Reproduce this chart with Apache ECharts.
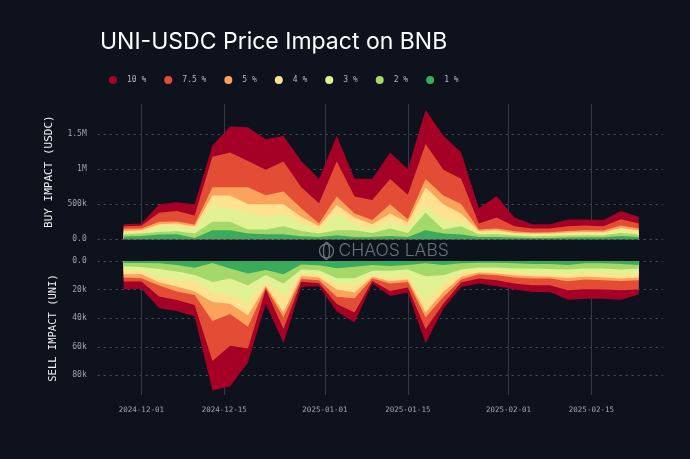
<!DOCTYPE html>
<html><head><meta charset="utf-8">
<script src="https://cdn.jsdelivr.net/npm/echarts@6/dist/echarts.min.js"></script>
<style>html,body{margin:0;padding:0;background:#0e121d;}#c{width:690px;height:459px;}</style>
</head><body><div id="c"></div>
<script>
// ---- data (values in thousands) ----
const dates = ['2024-11-28','2024-12-01','2024-12-04','2024-12-07','2024-12-10','2024-12-13','2024-12-16','2024-12-19','2024-12-22','2024-12-25',
  '2024-12-28','2024-12-31','2025-01-03','2025-01-06','2025-01-09','2025-01-12','2025-01-15','2025-01-18','2025-01-21','2025-01-24',
  '2025-01-27','2025-01-30','2025-02-02','2025-02-05','2025-02-08','2025-02-11','2025-02-14','2025-02-17','2025-02-20','2025-02-23'];
const levels = ['10 %','7.5 %','5 %','4 %','3 %','2 %','1 %'];
const colors = ['#a50026','#e34d35','#fba35c','#fee290','#e1f193','#a4d869','#3aaa5c'];

const buy10 = [215,226,500,529,500,1340,1610,1600,1430,1480,1120,865,1480,865,865,1240,1000,1850,1480,1240,442,620,312,216,216,284,284,274,404,322];
const buy75 = [185,192,380,404,341,1180,1240,1120,995,1110,745,515,1110,610,563,860,635,1360,995,865,226,312,187,154,154,187,197,187,288,226];
const buy5  = [150,154,250,255,211,745,745,745,630,683,442,226,610,370,274,500,288,860,625,505,139,154,115,96,101,120,130,125,197,154];
const buy4  = [120,130,216,226,187,625,625,505,500,500,322,187,490,312,216,370,240,740,500,370,120,130,91,82,82,96,106,101,163,125];
const buy3  = [95,105,178,178,139,500,442,380,322,370,226,139,370,216,154,250,168,490,274,250,96,101,72,62,67,77,82,82,130,96];
const buy2  = [70,82,106,115,82,250,250,139,139,187,120,82,130,130,91,154,91,380,139,187,67,72,53,43,48,53,58,58,91,67];
const buy1  = [40,48,67,72,20,130,130,82,72,72,43,34,58,34,34,48,34,130,82,67,34,34,24,19,19,24,29,29,48,34];

const sell10 = [19.6,19.4,33,35,38.8,90.6,87.5,71,29.9,57.6,18,17.6,35.3,43,15.8,24.5,22.1,57.6,33.4,18.1,15.8,17.6,20,21.6,21.6,27.1,26.4,26.4,27.1,23.5];
const sell75 = [14.4,14.4,24.9,27.2,30.7,69.9,59.3,61.2,20,47.5,14.5,15.5,30,36,13.9,21,18.6,47.5,29.9,15.1,12.2,13.4,15.8,16.9,16.9,20.5,19.8,20,20.5,20];
const sell5  = [11.6,12,17.2,21.4,23.7,42,37,46,18.6,39.3,12.5,13.5,25,26,12.2,15.8,14.6,39.3,25.2,12.9,9.2,9.9,11.5,12.2,12.2,14.1,12.9,13.4,13.9,13.4];
const sell4  = [9.3,9.3,14.9,17.9,21.4,28.7,29.9,38,17.4,35.8,10.5,11.5,20,22,11,14.1,12.9,35.8,21.6,11,8,8.7,9.9,10.6,11,11.8,11,11.5,12.2,11.5];
const sell3  = [7,7.4,11.6,13.3,14.9,21.6,24,29.9,14.4,25.2,8.5,9.2,16,17,9.2,12.2,10.6,29.9,15.8,8.2,6.8,7.1,8,8.7,8.7,9.2,8.7,8.7,9.2,8.7];
const sell2  = [3.7,4.2,5.6,7.4,9.8,14.6,12.2,17,9.8,15.8,6,6.5,12,12,6.8,6.8,5.9,10.6,9.9,5.9,4.5,4.5,5.2,5.2,5.6,5.9,5.2,5.2,5.9,5.2];
const sell1  = [1.4,1.4,1.6,2.8,4.7,1.4,5.2,8.7,6.3,9.2,2.5,3,5,4,2.8,3.5,2.8,1.6,2.8,1.6,1.2,1.2,1.6,2.1,2.1,2.8,1.6,1.6,2.1,2.8];

const xTicks = ['2024-12-01','2024-12-15','2025-01-01','2025-01-15','2025-02-01','2025-02-15'];

// ---- helpers ----
function parseLocal(s){ const p = s.split(' '); const d = p[0].split('-').map(Number); let h=0; if(p[1]) h=Number(p[1].split(':')[0]); return new Date(d[0], d[1]-1, d[2], h).getTime(); }
function fmtDate(v){ const d=new Date(v); const m=d.getMonth()+1, dd=d.getDate(); return d.getFullYear()+'-'+(m<10?'0':'')+m+'-'+(dd<10?'0':'')+dd; }
function fmtNum(v){ if(v===0) return '0.0'; if(v>=1e6) return (v/1e6)+'M'; return (v/1e3)+'k'; }

const buySets = [buy10,buy75,buy5,buy4,buy3,buy2,buy1];
const sellSets = [sell10,sell75,sell5,sell4,sell3,sell2,sell1];
const tickVals = xTicks.map(parseLocal);
const xs = dates.map(parseLocal);
const xMin = parseLocal('2024-11-23 15:00');
const xMax = parseLocal('2025-02-27 01:00');

const mono = 'DejaVu Sans Mono';
const labelColor = '#a0a5af';

function xAxisDef(idx, showLabels){
  return {
    type:'value', gridIndex: idx, min: xMin, max: xMax, scale:true,
    axisLine:{show:false},
    axisTick:{show:false, customValues: tickVals},
    axisLabel:{show: showLabels, customValues: tickVals, formatter: fmtDate, color: labelColor, fontFamily: mono, fontSize: 7.5, margin: 11, hideOverlap:false},
    splitLine:{show:true, lineStyle:{color:'#343946', width:1}}
  };
}

const series = [];
levels.forEach((name, k) => {
  series.push({
    name, type:'line', xAxisIndex:0, yAxisIndex:0, symbol:'none', silent:true,
    lineStyle:{width:0}, itemStyle:{color: colors[k]},
    areaStyle:{color: colors[k], opacity:1},
    data: xs.map((x,i)=>[x, buySets[k][i]*1000])
  });
});
levels.forEach((name, k) => {
  series.push({
    name, type:'line', xAxisIndex:1, yAxisIndex:1, symbol:'none', silent:true,
    lineStyle:{width:0}, itemStyle:{color: colors[k]},
    areaStyle:{color: colors[k], opacity:1},
    data: xs.map((x,i)=>[x, sellSets[k][i]*1000])
  });
});

const chart = echarts.init(document.getElementById('c'), null, {renderer:'canvas'});
chart.setOption({
  backgroundColor:'#0e121d',
  animation:false,
  title:{ text:'UNI-USDC Price Impact on BNB', left: 95, top: 26,
    textStyle:{ color:'#ffffff', fontFamily:'Inter', fontWeight: 400, fontSize: 23 } },
  legend:{ data: levels, left: 104, top: 71, icon:'circle', itemWidth:18, itemHeight:8, itemGap:18,
    textStyle:{ color:'#b4b8c0', fontFamily: mono, fontSize: 8 } },
  grid:[
    { left: 97.7, right: 27.3, top: 104, height: 135.3 },
    { left: 97.7, right: 27.3, top: 261, height: 134 }
  ],
  xAxis:[ xAxisDef(0,false), xAxisDef(1,true) ],
  yAxis:[
    { type:'value', gridIndex:0, min:0, max:1933000, interval:500000,
      axisLine:{show:false}, axisTick:{show:false},
      axisLabel:{ formatter: fmtNum, color: labelColor, fontFamily: mono, fontSize: 8, margin: 11, showMaxLabel:false },
      splitLine:{ lineStyle:{ type:[2,4], color:'#4b505c' }, showMaxLine:false },
      name:'BUY IMPACT (USDC)', nameLocation:'middle', nameRotate:90, nameGap:43,
      nameTextStyle:{ color:'#f2f2f2', fontFamily: mono, fontSize: 11 } },
    { type:'value', gridIndex:1, min:0, max:93700, interval:20000, inverse:true,
      axisLine:{show:false}, axisTick:{show:false},
      axisLabel:{ formatter: fmtNum, color: labelColor, fontFamily: mono, fontSize: 8, margin: 11, showMaxLabel:false },
      splitLine:{ lineStyle:{ type:[2,4], color:'#4b505c' }, showMaxLine:false },
      name:'SELL IMPACT (UNI)', nameLocation:'middle', nameRotate:90, nameGap:39,
      nameTextStyle:{ color:'#f2f2f2', fontFamily: mono, fontSize: 10.5 } }
  ],
  graphic:[
    { type:'group', left: 317, top: 240, z: 100, silent:true, children:[
      { type:'circle', shape:{cx:9, cy:10, r:7}, style:{fill:'none', stroke:'#6b707c', lineWidth:1.3} },
      { type:'ellipse', shape:{cx:9, cy:10, rx:3, ry:8.5}, style:{fill:'none', stroke:'#6b707c', lineWidth:1.3} },
      { type:'text', x: 21, y: 1, style:{ text:'CHAOS LABS', fill:'#6b707c', font:'300 17.5px Inter' } }
    ]}
  ],
  series
});
</script></body></html>
